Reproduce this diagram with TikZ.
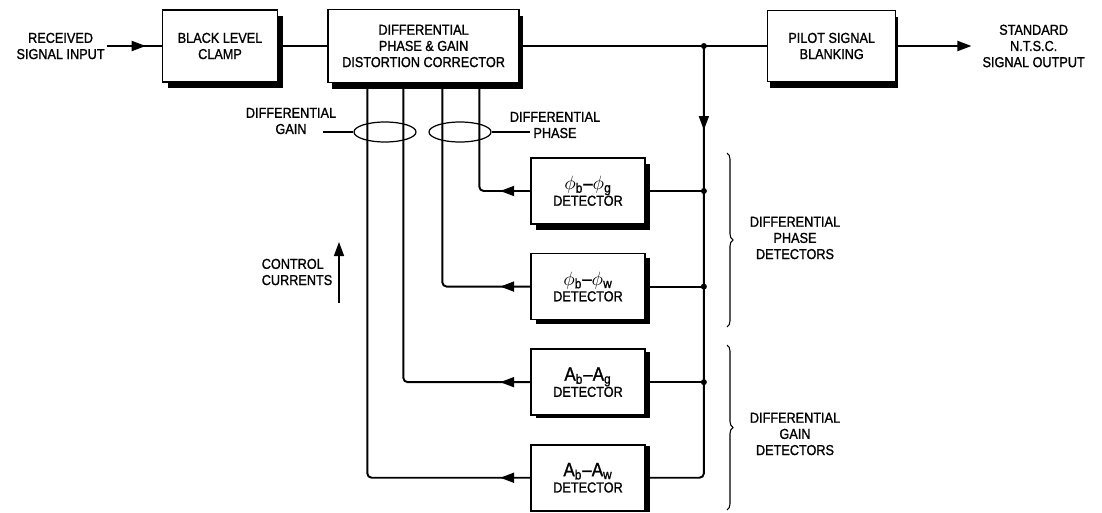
\documentclass[tikz,border=0pt]{standalone}
\usepackage{fontspec}
\setmainfont{Liberation Sans}[FakeStretch=0.88,FakeBold=1.2]
\usetikzlibrary{positioning,calc,arrows.meta,shapes.geometric,decorations.markings,decorations.pathreplacing}
\tikzset{block/.style={rectangle,draw,line width=0.9pt,fill=white,align=center,inner sep=2pt},
  detector/.style={block,minimum width=2.28cm,minimum height=1.32cm},
  tag/.style={align=center,inner sep=1pt},
  wire/.style={line width=1.1pt},
  boxshadow/.style={fill=black},
  midarrow/.style={postaction={decorate},decoration={markings,mark=at position #1 with {\arrow{Triangle[length=2.8mm,width=2mm]}}}},
  outarrow/.style={-{Triangle[length=2.8mm,width=2mm]}},
  cableloop/.style={ellipse,draw,line width=0.7pt,minimum width=1.24cm,minimum height=0.4cm,inner sep=0pt},
  curly/.style={decorate,decoration={brace,amplitude=1.2mm},line width=0.6pt}}

\begin{document}
\begin{tikzpicture}[x=0.2mm,y=-0.2mm,font=\fontsize{8.2}{9.2}\selectfont]
  \useasboundingbox (0,0) rectangle (1102,513);

  % shadows, drawn first so that the white boxes cover them
  \fill[boxshadow] (167.5,16) rectangle (282.5,88);
  \fill[boxshadow] (331.5,15.5) rectangle (522.5,88.5);
  \fill[boxshadow] (769.5,16.5) rectangle (897.5,87.5);
  \fill[boxshadow] (535.5,164) rectangle (649.5,230);
  \fill[boxshadow] (535.5,258) rectangle (649.5,324);
  \fill[boxshadow] (535.5,352) rectangle (649.5,418);
  \fill[boxshadow] (535.5,446) rectangle (649.5,512);

  \node (clamp)     [block,minimum width=2.3cm,minimum height=1.44cm] at (220,46) {BLACK LEVEL\\CLAMP};
  \node (corrector) [block,minimum width=3.82cm,minimum height=1.46cm,right=9.8mm of clamp] {DIFFERENTIAL\\PHASE \& GAIN\\DISTORTION CORRECTOR};
  \node (blanking)  [block,minimum width=2.56cm,minimum height=1.42cm,right=49.4mm of corrector] {PILOT SIGNAL\\BLANKING};
  \node (input)     [tag,left=11mm of clamp] {RECEIVED\\SIGNAL INPUT};
  \node (output)    [tag,right=16.8mm of blanking] {STANDARD\\N.T.S.C.\\SIGNAL OUTPUT};

  \node (phig) [detector] at (588,191) {{\fontsize{11}{12}\selectfont $\phi$\textsubscript{b}--$\phi$\textsubscript{g}}\\DETECTOR};
  \node (phiw) [detector,below=5.6mm of phig] {{\fontsize{11}{12}\selectfont $\phi$\textsubscript{b}--$\phi$\textsubscript{w}}\\DETECTOR};
  \node (ag)   [detector,below=5.6mm of phiw] {{\fontsize{11}{12}\selectfont A\textsubscript{b}--A\textsubscript{g}}\\DETECTOR};
  \node (aw)   [detector,below=5.6mm of ag]   {{\fontsize{11}{12}\selectfont A\textsubscript{b}--A\textsubscript{w}}\\DETECTOR};

  \node (gloop) [cableloop] at (385,132) {};
  \node (ploop) [cableloop] at (460,132) {};
  \node (gainlbl)  [tag] at (291,121) {DIFFERENTIAL\\GAIN};
  \node (phaselbl) [tag] at (555,125) {DIFFERENTIAL\\PHASE};
  \node (ctrl)     [tag,align=left] at (297,272) {CONTROL\\CURRENTS};
  \node (phasedet) [tag] at (795,238) {DIFFERENTIAL\\PHASE\\DETECTORS};
  \node (gaindet)  [tag] at (795,434) {DIFFERENTIAL\\GAIN\\DETECTORS};

  \coordinate (faw)   at ($(corrector.south west)+(40,0)$);
  \coordinate (fag)   at ($(corrector.south west)+(76,0)$);
  \coordinate (fphiw) at ($(corrector.south west)+(115,0)$);
  \coordinate (fphig) at ($(corrector.south west)+(152,0)$);
  \coordinate (tap)   at ($(corrector.east)+(184,0)$);
  \coordinate (gend)  at (323,132);
  \coordinate (pend)  at (530,132);
  \coordinate (cbot)  at (339,303);
  \coordinate (ctop)  at (339,242);

  \path (input) edge[wire,midarrow=7.8mm] (clamp)   % main signal path
        (clamp) edge[wire] (corrector)
        (corrector) edge[wire] (blanking)
        (blanking) edge[wire,outarrow,shorten >=1.8mm] (output);

  \draw[wire,rounded corners=2.5pt,midarrow=16.8mm] (tap) |- (aw.east);
  \draw[wire] (phig.east) -- (phig.east -| tap);
  \draw[wire] (phiw.east) -- (phiw.east -| tap);
  \draw[wire] (ag.east) -- (ag.east -| tap);
  \fill (tap) circle (0.6mm);
  \fill (phig.east -| tap) circle (0.6mm);
  \fill (phiw.east -| tap) circle (0.6mm);
  \fill (ag.east -| tap) circle (0.6mm);

  % control currents back to the corrector
  \draw[wire,rounded corners=2.5pt,midarrow=6mm] (phig.west) -| (fphig);
  \draw[wire,rounded corners=2.5pt,midarrow=6mm] (phiw.west) -| (fphiw);
  \draw[wire,rounded corners=2.5pt,midarrow=6mm] (ag.west) -| (fag);
  \draw[wire,rounded corners=2.5pt,midarrow=6mm] (aw.west) -| (faw);

  \path (gloop) edge[line width=0.7pt] (gend)
        (ploop) edge[line width=0.7pt] (pend);
  \draw[line width=0.8pt,outarrow] (cbot) -- (ctop);

  \draw[curly] (727,153) -- (727,327);
  \draw[curly] (727,345) -- (727,510);
\end{tikzpicture}
\end{document}
